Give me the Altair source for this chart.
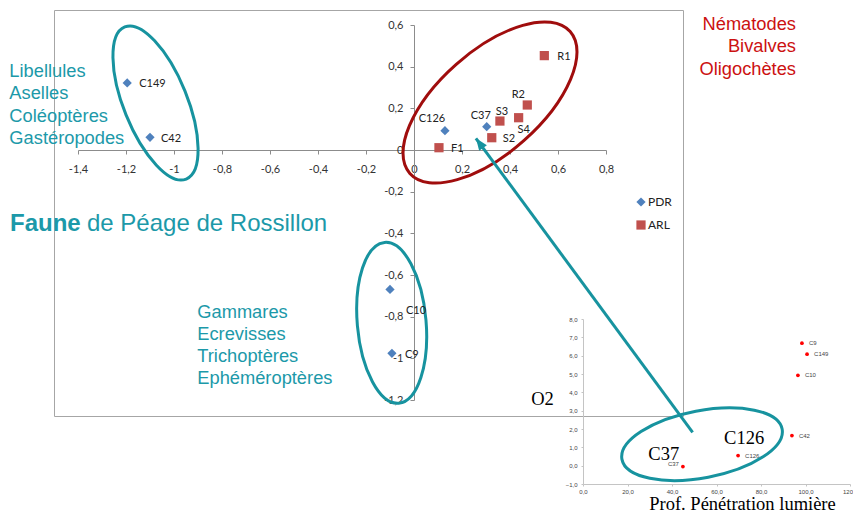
import altair as alt
import pandas as pd

# ---------------- data ----------------
pdr_noms = ["C149", "C42", "C126", "C37", "C10", "C9"]
pdr_x = [-1.195, -1.100, 0.129, 0.303, -0.100, -0.092]
pdr_y = [0.322, 0.061, 0.093, 0.112, -0.669, -0.976]

arl_noms = ["R1", "R2", "S3", "S4", "S2", "F1"]
arl_x = [0.543, 0.472, 0.358, 0.436, 0.324, 0.104]
arl_y = [0.453, 0.216, 0.139, 0.155, 0.059, 0.011]

x_ticks = [-1.4, -1.2, -1.0, -0.8, -0.6, -0.4, -0.2, 0.0, 0.2, 0.4, 0.6, 0.8]
y_ticks = [-1.2, -1.0, -0.8, -0.6, -0.4, -0.2, 0.0, 0.2, 0.4, 0.6]

inset_noms = ["C9", "C149", "C10", "C42", "C126", "C37"]
inset_x = [98.4, 100.7, 96.6, 93.9, 69.7, 44.9]
inset_y = [6.68, 6.08, 4.93, 1.64, 0.55, -0.05]
inset_x_ticks = [0, 20, 40, 60, 80, 100, 120]
inset_y_ticks = [-1, 0, 1, 2, 3, 4, 5, 6, 7, 8]

groupe_gauche = ["Libellules", "Aselles", "Coléoptères", "Gastéropodes"]
groupe_droite = ["Chironomes", "Nématodes", "Bivalves", "Oligochètes"]
groupe_bas = ["Gammares", "Ecrevisses", "Trichoptères", "Ephéméroptères"]

# ---------------- styles ----------------
TEAL = "#1c99a9"
TEAL_LINE = "#17939f"
RED_TXT = "#cc1111"
RED_ELL = "#a00d0d"
BLUE = "#4f81bd"
RED_PT = "#c0504d"

# label placement per point: (dx, dy, align)
label_place = {
    "C149": (12, 1, "left"), "C42": (11, 2, "left"), "C126": (-13, -12, "center"),
    "C37": (-6, -11, "center"), "C10": (16, 22, "left"), "C9": (13, 1.5, "left"),
    "R1": (13, 1, "left"), "R2": (-9, -10, "center"), "S3": (2, -9, "center"),
    "S4": (5, 12, "center"), "S2": (11, 1.5, "left"), "F1": (12, 1.5, "left"),
}

# ---------------- scales & axes ----------------
xs = alt.Scale(domain=[-1.4, 0.8], range=[24, 552], nice=False, zero=False)
ys = alt.Scale(domain=[-1.2, 0.6], range=[390, 15], nice=False, zero=False)
fmt_main = "replace(toString(datum.value), '.', ',')"
ax_main = dict(grid=False, title=None, domainColor="#8c8c8c", tickColor="#8c8c8c",
               tickSize=4, labelFont="Lato", labelFontSize=11, labelColor="#333333",
               labelFlush=False, labelOverlap=False, labelExpr=fmt_main)
x_axis = alt.Axis(orient="bottom", offset=-266, values=x_ticks, labelPadding=9, **ax_main)
y_axis = alt.Axis(orient="left", offset=-360, values=y_ticks, labelPadding=7, **ax_main)

xs_in = alt.Scale(domain=[0, 120], range=[529, 796], nice=False, zero=False)
ys_in = alt.Scale(domain=[-1, 8], range=[474, 309], nice=False, zero=False)
fmt_in = "replace(format(datum.value, '.1f'), '.', ',')"
ax_in = dict(grid=False, domainColor="#c4c4c4", tickColor="#c4c4c4", tickSize=2,
             labelFont="Liberation Sans", labelFontSize=6, labelColor="#444444",
             labelFlush=False, labelOverlap=False, labelExpr=fmt_in)
x_axis_in = alt.Axis(orient="bottom", offset=68, values=inset_x_ticks, labelPadding=2,
                     title="Prof. Pénétration lumière", titleFont="Liberation Serif",
                     titleFontSize=18.5, titleFontWeight="normal", titleColor="#000000",
                     titleX=688, titleY=25, titleBaseline="alphabetic", **ax_in)
y_axis_in = alt.Axis(orient="left", offset=-529, values=inset_y_ticks, labelPadding=4,
                     title=None, **ax_in)


def pos_main():
    return dict(x=alt.X("x:Q", scale=xs, axis=x_axis), y=alt.Y("y:Q", scale=ys, axis=y_axis))


def pos_in():
    return dict(x=alt.X("x:Q", scale=xs_in, axis=x_axis_in), y=alt.Y("y:Q", scale=ys_in, axis=y_axis_in))


def ellipse(cx, cy, a, b, ang, color, pos):
    r = b / a
    path = f"M -1 0 A 1 {r:.4f} 0 1 1 1 0 A 1 {r:.4f} 0 1 1 -1 0 Z"
    return alt.Chart(pd.DataFrame({"x": [cx], "y": [cy]})).mark_point(
        shape=path, size=4 * a * a, angle=ang, filled=False, stroke=color,
        strokeWidth=3, opacity=1
    ).encode(**pos())


def text_block(x, y, lines, align, color, size, lh, weight="normal", font="Liberation Sans"):
    return alt.Chart(pd.DataFrame({"x": [x], "y": [y], "t": ["\n".join(lines)]})).mark_text(
        align=align, baseline="alphabetic", lineBreak="\n", lineHeight=lh, font=font,
        fontSize=size, fontWeight=weight, color=color
    ).encode(text="t:N", **pos_main())


# ---------------- main chart ----------------
df_main = pd.DataFrame({
    "nom": pdr_noms + arl_noms,
    "x": pdr_x + arl_x,
    "y": pdr_y + arl_y,
    "serie": ["PDR"] * len(pdr_noms) + ["ARL"] * len(arl_noms),
})

leg = alt.Legend(orient="none", legendX=581, legendY=186, title=None, symbolSize=85,
                 labelFont="Lato", labelFontSize=12, labelColor="#222222", rowPadding=11,
                 labelOffset=1, padding=0, symbolStrokeWidth=0, symbolOpacity=1)

points = alt.Chart(df_main).mark_point(filled=True, opacity=1, size=85).encode(
    color=alt.Color("serie:N", scale=alt.Scale(domain=["PDR", "ARL"], range=[BLUE, RED_PT]), legend=leg),
    shape=alt.Shape("serie:N", scale=alt.Scale(domain=["PDR", "ARL"], range=["diamond", "square"]), legend=leg),
    **pos_main()
)

labels = []
for nom, (dx, dy, align) in label_place.items():
    labels.append(
        alt.Chart(df_main).transform_filter(alt.datum.nom == nom).mark_text(
            dx=dx, dy=dy, align=align, baseline="middle", font="Lato", fontSize=11, color="#222222"
        ).encode(text="nom:N", **pos_main())
    )

ell1 = ellipse(-1.077, 0.2256, 82, 31.8, 68, TEAL_LINE, pos_main)
ell2 = ellipse(0.3167, 0.228, 107, 51, 318.5, RED_ELL, pos_main)
ell3 = ellipse(-0.093, -0.8294, 80.7, 34.4, 85, TEAL_LINE, pos_main)

txt_left = text_block(-1.686, 0.3518, groupe_gauche, "left", TEAL, 18.3, 22.4)
txt_right = text_block(1.5917, 0.684, groupe_droite, "right", RED_TXT, 18.3, 22.4)
txt_bas = text_block(-0.903, -0.805, groupe_bas, "left", TEAL, 18.3, 22.1)
txt_faune = text_block(-1.6833, -0.3874, ["Faune"], "left", TEAL, 24, 24, weight="bold")
txt_faune2 = text_block(-1.3625, -0.3874, ["de Péage de Rossillon"], "left", TEAL, 24, 24)

arrow = alt.Chart(pd.DataFrame({"x": [1.161], "y": [-1.355], "x2": [0.258], "y2": [0.056]})).mark_rule(
    color=TEAL_LINE, strokeWidth=3
).encode(x2="x2:Q", y2="y2:Q", **pos_main())
arrow_head = alt.Chart(pd.DataFrame({"x": [0.258], "y": [0.056]})).mark_point(
    shape="M 0 0 L 0.8 2 L -0.8 2 Z", size=144, angle=323.6, filled=True,
    color=TEAL_LINE, opacity=1
).encode(**pos_main())

main = alt.layer(ell1, ell2, ell3, txt_left, txt_right, txt_bas, txt_faune, txt_faune2,
                 points, *labels, arrow, arrow_head)

# ---------------- inset chart ----------------
df_in = pd.DataFrame({"nom": inset_noms, "x": inset_x, "y": inset_y})
in_pts = alt.Chart(df_in).mark_circle(size=14, color="#ff0000", opacity=1).encode(**pos_in())
in_lab = alt.Chart(df_in).transform_filter(alt.datum.nom != "C37").mark_text(
    align="left", dx=7, baseline="middle", font="Liberation Sans", fontSize=6, color="#444444"
).encode(text="nom:N", **pos_in())
in_lab37 = alt.Chart(df_in).transform_filter(alt.datum.nom == "C37").mark_text(
    align="right", dx=-4, dy=-3, baseline="middle", font="Liberation Sans", fontSize=6, color="#444444"
).encode(text="nom:N", **pos_in())

big = pd.DataFrame({"x": [72.4, 36.3, -18.2], "y": [1.19, 0.31, 3.33], "t": ["C126", "C37", "O2"]})
in_big = alt.Chart(big).mark_text(
    align="center", baseline="alphabetic", font="Liberation Serif", fontSize=18.5, color="#000000"
).encode(text="t:N", **pos_in())
ell4 = ellipse(53.5, 1.17, 81.5, 33.6, 349.3, TEAL_LINE, pos_in)

inset = alt.layer(in_pts, in_lab, in_lab37, in_big, ell4)

chart = alt.layer(main, inset).resolve_scale(x="independent", y="independent").properties(
    width=629, height=406,
    padding={"left": 46, "top": 2, "right": 170, "bottom": 94},
    autosize=alt.AutoSizeParams(type="none"),
    background="white",
).configure_view(stroke="#a6a6a6", strokeWidth=1)

chart.save("out.html", embed_options={"renderer": "svg", "actions": False})
